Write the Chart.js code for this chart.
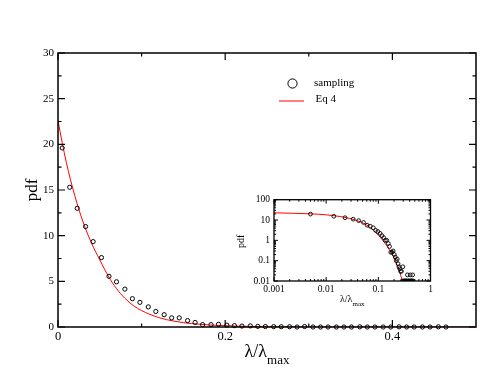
<!DOCTYPE html>
<html lang="en">
<head>
<meta charset="UTF-8" />
<title>pdf of λ/λmax</title>
<script src="https://cdn.jsdelivr.net/npm/chart.js"></script>
<style>
  body { margin: 0; background: #fff; }
  #wrap { position: relative; width: 498px; height: 385px; }
  #main { position: absolute; left: 0; top: 0; }
  #inset { position: absolute; left: 230px; top: 190px; }
</style>
</head>
<body>
<div id="wrap">
  <canvas id="main" width="498" height="385"></canvas>
  <canvas id="inset" width="210" height="120"></canvas>
</div>
<script>
// sampled pdf (open circles)
const sampX = [0.005, 0.014, 0.023, 0.033, 0.042, 0.052, 0.061, 0.070, 0.080, 0.089,
               0.098, 0.108, 0.117, 0.127, 0.136, 0.145, 0.155, 0.164, 0.173, 0.183,
               0.192, 0.202, 0.211, 0.220, 0.230, 0.239, 0.248, 0.258, 0.267, 0.277,
               0.286, 0.295, 0.305, 0.314, 0.323, 0.333, 0.342, 0.351, 0.361, 0.370,
               0.379, 0.389, 0.398, 0.408, 0.417, 0.426, 0.436, 0.445, 0.455, 0.464];
const sampY = [19.6, 15.3, 13.0, 11.0, 9.35, 7.6, 5.55, 4.95, 4.15, 3.1,
               2.7, 2.2, 1.7, 1.35, 1.0, 1.0, 0.7, 0.5, 0.26, 0.26,
               0.3, 0.2, 0.15, 0.1, 0.12, 0.07, 0.05, 0.04, 0.03, 0.03,
               0, 0.05, 0, 0, 0, 0, 0, 0, 0.02, 0,
               0, 0, 0, 0.02, 0, 0, 0, 0, 0.02, 0];

// Eq 4 curve (red)
const eqX = [0, 0.005, 0.01, 0.02, 0.03, 0.04, 0.05, 0.06, 0.07, 0.08, 0.09, 0.10,
             0.11, 0.12, 0.13, 0.14, 0.15, 0.16, 0.17, 0.18, 0.19, 0.20,
             0.22, 0.24, 0.26, 0.28, 0.29, 0.30, 0.5];
const eqY = [22.6, 20.2, 18.0, 14.4, 11.5, 9.2, 7.35, 5.6, 4.2, 3.15, 2.35, 1.8,
             1.38, 1.05, 0.8, 0.62, 0.48, 0.37, 0.3, 0.23, 0.18, 0.14,
             0.08, 0.045, 0.025, 0.013, 0.008, 0, 0];

// axis ticks
const mainXMajor = [0, 0.2, 0.4];
const mainXMinor = [0.1, 0.3];
const mainYMajor = [0, 5, 10, 15, 20, 25, 30];
const mainYMinor = [2.5, 7.5, 12.5, 17.5, 22.5, 27.5];
const insetXMajor = [0.001, 0.01, 0.1, 1];
const insetXLabels = ['0.001', '0.01', '0.1', '1'];
const insetYMajor = [0.01, 0.1, 1, 10, 100];
const insetYLabels = ['0.01', '0.1', '1', '10', '100'];

const serif = '"Liberation Serif", "Times New Roman", serif';

function minorsOf(decades) {
  const out = [];
  decades.slice(0, -1).forEach(d => { for (let k = 2; k <= 9; k++) out.push(d * k); });
  return out;
}

function frameAndTicks(ctx, a, sx, sy, t) {
  ctx.save();
  ctx.strokeStyle = '#000';
  ctx.lineWidth = t.frame;
  ctx.strokeRect(a.left, a.top, a.right - a.left, a.bottom - a.top);
  ctx.lineWidth = t.tickW;
  ctx.beginPath();
  const xt = (vals, len) => vals.forEach(v => {
    const p = sx.getPixelForValue(v);
    ctx.moveTo(p, a.bottom); ctx.lineTo(p, a.bottom - len);
    ctx.moveTo(p, a.top); ctx.lineTo(p, a.top + len);
  });
  const yt = (vals, len) => vals.forEach(v => {
    const p = sy.getPixelForValue(v);
    ctx.moveTo(a.left, p); ctx.lineTo(a.left + len, p);
    ctx.moveTo(a.right, p); ctx.lineTo(a.right - len, p);
  });
  xt(t.xMajor, t.major); xt(t.xMinor, t.minor);
  yt(t.yMajor, t.major); yt(t.yMinor, t.minor);
  ctx.stroke();
  ctx.restore();
}

function lambdaTitle(ctx, cx, y, big, small, drop) {
  ctx.save();
  ctx.fillStyle = '#000';
  ctx.textAlign = 'left';
  ctx.textBaseline = 'alphabetic';
  ctx.font = big + 'px ' + serif;
  const w1 = ctx.measureText('λ/λ').width;
  ctx.font = small + 'px ' + serif;
  const w2 = ctx.measureText('max').width;
  const x = cx - (w1 + w2) / 2;
  ctx.font = big + 'px ' + serif;
  ctx.fillText('λ/λ', x, y);
  ctx.font = small + 'px ' + serif;
  ctx.fillText('max', x + w1, y + drop);
  ctx.restore();
}

function rotTitle(ctx, text, x, y, size) {
  ctx.save();
  ctx.fillStyle = '#000';
  ctx.font = size + 'px ' + serif;
  ctx.translate(x, y);
  ctx.rotate(-Math.PI / 2);
  ctx.textAlign = 'center';
  ctx.textBaseline = 'middle';
  ctx.fillText(text, 0, 0);
  ctx.restore();
}

const pts = (xs, ys, floor) => xs.map((x, i) => ({ x: x, y: floor ? Math.max(ys[i], floor) : ys[i] }));

const noGrid = { display: false, drawTicks: false };

// ---------- main chart ----------
const mainDecor = {
  id: 'mainDecor',
  afterDatasetsDraw(chart) {
    const a = chart.chartArea;
    frameAndTicks(chart.ctx, a, chart.scales.x, chart.scales.y, {
      frame: 1.5, tickW: 1.2, major: 7, minor: 3.5,
      xMajor: mainXMajor, xMinor: mainXMinor, yMajor: mainYMajor, yMinor: mainYMinor
    });
  },
  afterDraw(chart) {
    const ctx = chart.ctx, a = chart.chartArea;
    rotTitle(ctx, 'pdf', 33, (a.top + a.bottom) / 2, 17);
    lambdaTitle(ctx, (a.left + a.right) / 2, 357, 18, 13, 7);

    // legend
    const ds = chart.data.datasets;
    ctx.save();
    ctx.fillStyle = '#000';
    ctx.font = '11px ' + serif;
    ctx.textAlign = 'left';
    ctx.textBaseline = 'middle';
    ctx.strokeStyle = '#000';
    ctx.lineWidth = 1;
    ctx.beginPath();
    ctx.arc(292.5, 83.5, 4.6, 0, Math.PI * 2);
    ctx.stroke();
    ctx.fillText(ds[0].label, 314, 83);
    ctx.strokeStyle = '#ff0000';
    ctx.beginPath();
    ctx.moveTo(279, 101); ctx.lineTo(304, 101);
    ctx.stroke();
    ctx.fillText(ds[1].label, 315.5, 99.5);
    ctx.restore();
  }
};

new Chart(document.getElementById('main'), {
  type: 'scatter',
  data: {
    datasets: [
      {
        label: 'sampling',
        data: pts(sampX, sampY),
        showLine: false,
        pointRadius: 2.1,
        pointBorderWidth: 1,
        borderColor: '#000',
        backgroundColor: 'rgba(0,0,0,0)',
        clip: false,
        order: 1
      },
      {
        label: 'Eq 4',
        data: pts(eqX, eqY),
        showLine: true,
        pointRadius: 0,
        borderColor: '#ff0000',
        borderWidth: 1,
        cubicInterpolationMode: 'monotone',
        order: 2
      }
    ]
  },
  options: {
    responsive: false,
    animation: false,
    events: [],
    layout: { padding: { left: 0, right: 22, top: 53, bottom: 0 } },
    plugins: { legend: { display: false }, tooltip: { enabled: false } },
    scales: {
      x: {
        type: 'linear', min: 0, max: 0.5,
        afterBuildTicks: s => { s.ticks = mainXMajor.map(v => ({ value: v })); },
        afterFit: s => { s.height = 58; },
        grid: noGrid, border: { display: false },
        ticks: {
          color: '#000', padding: 2, maxRotation: 0, autoSkip: false,
          font: { family: serif, size: 12.5 },
          callback: v => v === 0 ? '0' : v.toFixed(1)
        }
      },
      y: {
        type: 'linear', min: 0, max: 30,
        afterBuildTicks: s => { s.ticks = mainYMajor.map(v => ({ value: v })); },
        afterFit: s => { s.width = 58; },
        grid: noGrid, border: { display: false },
        ticks: {
          color: '#000', padding: 4, autoSkip: false,
          font: { family: serif, size: 11 },
          callback: v => String(v)
        }
      }
    }
  },
  plugins: [mainDecor]
});

// ---------- inset (log-log) ----------
const insetDecor = {
  id: 'insetDecor',
  afterDatasetsDraw(chart) {
    frameAndTicks(chart.ctx, chart.chartArea, chart.scales.x, chart.scales.y, {
      frame: 1.3, tickW: 1, major: 4, minor: 2,
      xMajor: insetXMajor, xMinor: minorsOf(insetXMajor),
      yMajor: insetYMajor, yMinor: minorsOf(insetYMajor)
    });
  },
  afterDraw(chart) {
    const ctx = chart.ctx, a = chart.chartArea;
    rotTitle(ctx, 'pdf', 11.5, (a.top + a.bottom) / 2 + 1, 10);
    lambdaTitle(ctx, (a.left + a.right) / 2, 112, 10, 7, 3.5);
  }
};

new Chart(document.getElementById('inset'), {
  type: 'scatter',
  data: {
    datasets: [
      {
        label: 'sampling',
        data: pts(sampX, sampY, 0.01),
        showLine: false,
        pointRadius: 1.9,
        pointBorderWidth: 0.9,
        borderColor: '#000',
        backgroundColor: 'rgba(0,0,0,0)',
        order: 1
      },
      {
        label: 'Eq 4',
        data: pts(eqX, eqY, 0.01),
        showLine: true,
        pointRadius: 0,
        borderColor: '#ff0000',
        borderWidth: 1,
        cubicInterpolationMode: 'monotone',
        order: 2
      }
    ]
  },
  options: {
    responsive: false,
    animation: false,
    events: [],
    layout: { padding: { left: 0, right: 9.5, top: 8.3, bottom: 0 } },
    plugins: { legend: { display: false }, tooltip: { enabled: false } },
    scales: {
      x: {
        type: 'logarithmic', min: 0.001, max: 1,
        afterBuildTicks: s => { s.ticks = insetXMajor.map(v => ({ value: v })); },
        afterFit: s => { s.height = 29; },
        grid: noGrid, border: { display: false },
        ticks: {
          color: '#000', padding: 3, maxRotation: 0, autoSkip: false,
          font: { family: serif, size: 9.5 },
          callback: (v, i) => insetXLabels[i]
        }
      },
      y: {
        type: 'logarithmic', min: 0.01, max: 100,
        afterBuildTicks: s => { s.ticks = insetYMajor.map(v => ({ value: v })); },
        afterFit: s => { s.width = 44; },
        grid: noGrid, border: { display: false },
        ticks: {
          color: '#000', padding: 4, autoSkip: false,
          font: { family: serif, size: 9.5 },
          callback: (v, i) => insetYLabels[i]
        }
      }
    }
  },
  plugins: [insetDecor]
});
</script>
</body>
</html>
